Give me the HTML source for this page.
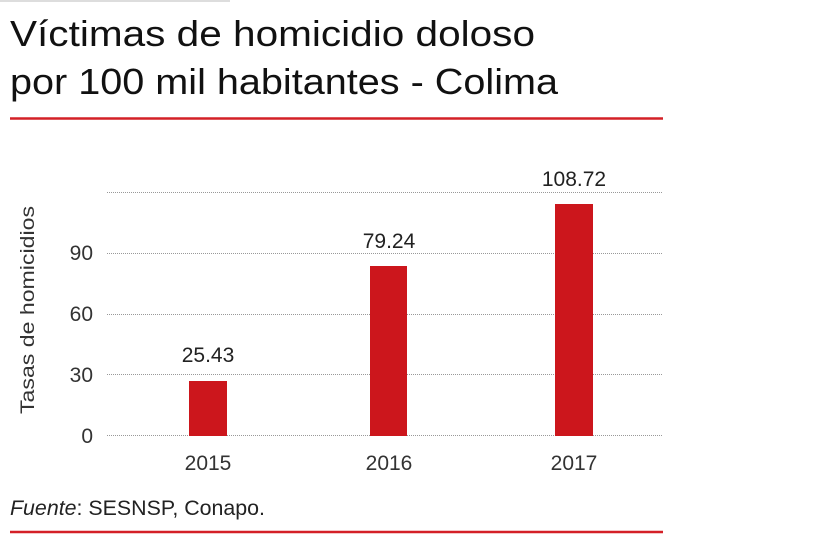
<!DOCTYPE html>
<html><head><meta charset="utf-8"><style>html,body{margin:0;padding:0;background:#fff;}svg{display:block}</style></head>
<body>
<svg width="819" height="548" viewBox="0 0 819 548" xmlns="http://www.w3.org/2000/svg" font-family="Liberation Sans, sans-serif">
<rect width="819" height="548" fill="#fff"/>
<line x1="0" y1="1" x2="230" y2="1" stroke="#bbb" stroke-width="1"/>
<text x="10" y="46" font-size="36" fill="#111" textLength="525" lengthAdjust="spacingAndGlyphs">Víctimas de homicidio doloso</text>
<text x="10" y="94" font-size="36" fill="#111" textLength="548" lengthAdjust="spacingAndGlyphs">por 100 mil habitantes - Colima</text>
<line x1="10" y1="118.5" x2="663" y2="118.5" stroke="#d42027" stroke-width="2.5"/>
<g stroke="#999" stroke-width="1" stroke-dasharray="1,1">
<line x1="107" y1="192.5" x2="662" y2="192.5"/>
<line x1="107" y1="253.5" x2="662" y2="253.5"/>
<line x1="107" y1="314.5" x2="662" y2="314.5"/>
<line x1="107" y1="374.5" x2="662" y2="374.5"/>
<line x1="107" y1="435.5" x2="662" y2="435.5"/>
</g>
<g fill="#333" font-size="21" text-anchor="end">
<text x="93" y="260">90</text>
<text x="93" y="321">60</text>
<text x="93" y="382">30</text>
<text x="93" y="443">0</text>
</g>
<text transform="translate(34,310) rotate(-90)" font-size="19" fill="#333" text-anchor="middle" textLength="208" lengthAdjust="spacingAndGlyphs">Tasas de homicidios</text>
<g fill="#cc161c">
<rect x="189" y="381" width="38" height="55"/>
<rect x="370" y="266" width="37" height="170"/>
<rect x="555" y="204" width="38" height="232"/>
</g>
<g fill="#222" font-size="21" text-anchor="middle">
<text x="208" y="362">25.43</text>
<text x="389" y="248">79.24</text>
<text x="574" y="186">108.72</text>
<text x="208" y="470" fill="#333">2015</text>
<text x="389" y="470" fill="#333">2016</text>
<text x="574" y="470" fill="#333">2017</text>
</g>
<text x="10" y="515" font-size="21" fill="#222" textLength="255" lengthAdjust="spacingAndGlyphs"><tspan font-style="italic">Fuente</tspan>: SESNSP, Conapo.</text>
<line x1="10" y1="532" x2="663" y2="532" stroke="#d42027" stroke-width="2.5"/>
</svg>
</body></html>
